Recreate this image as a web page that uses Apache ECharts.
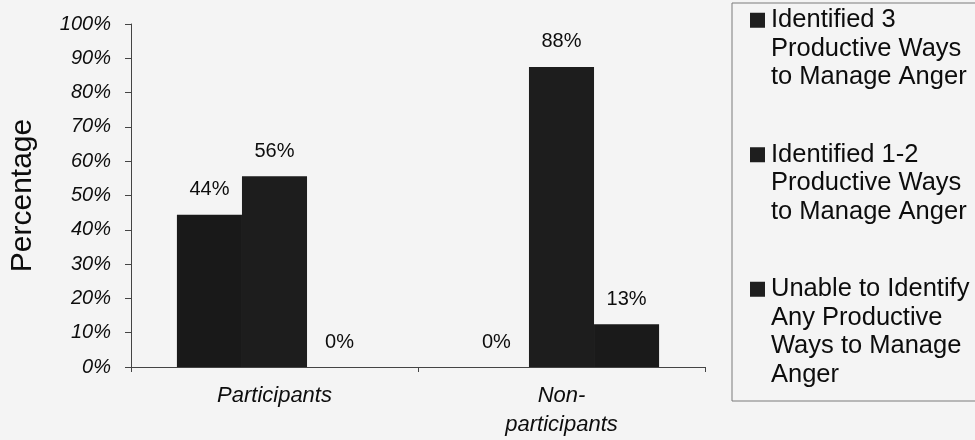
<!DOCTYPE html>
<html>
<head>
<meta charset="utf-8">
<script src="https://cdn.jsdelivr.net/npm/echarts/dist/echarts.min.js"></script>
<style>
  html, body { margin: 0; padding: 0; background: #f4f4f4; }
  #chart { width: 975px; height: 440px; }
</style>
</head>
<body>
<div id="chart"></div>
<script>
// ---- data ----
const categories = ['Participants', 'Non-\nparticipants'];
const seriesNames = [
  'Identified 3 Productive Ways to Manage Anger',
  'Identified 1-2 Productive Ways to Manage Anger',
  'Unable to Identify Any Productive Ways to Manage Anger'
];
const legendLines = [
  ['Identified 3', 'Productive Ways', 'to Manage Anger'],
  ['Identified 1-2', 'Productive Ways', 'to Manage Anger'],
  ['Unable to Identify', 'Any Productive', 'Ways to Manage', 'Anger']
];
const identified3 = [44.4, 0];
const identified12 = [55.6, 87.5];
const unable = [0, 12.5];
const yTicks = [0, 10, 20, 30, 40, 50, 60, 70, 80, 90, 100];

// ---- styling ----
const FONT = "'Liberation Sans', Arial, sans-serif";
const barColors = ['#191919', '#1d1d1d', '#1a1a1a'];
const seriesData = [identified3, identified12, unable];

const chart = echarts.init(document.getElementById('chart'), null, { renderer: 'canvas' });

const option = {
  animation: false,
  backgroundColor: '#f4f4f4',
  grid: { left: 130, right: 270, top: 24, bottom: 73, containLabel: false },
  legend: {
    orient: 'vertical',
    left: 732,
    top: 3,
    padding: [3, 40, 12, 13],
    itemGap: 49,
    itemWidth: 0,
    itemHeight: 0,
    selectedMode: false,
    borderColor: '#7a7a7a',
    borderWidth: 1,
    data: seriesNames,
    formatter: function (name) {
      const lines = legendLines[seriesNames.indexOf(name)];
      return lines.map(function (l, i) {
        return (i === 0 ? '{sq|}{g|}' : '{ind|}') + '{t|' + l + '}';
      }).join('\n');
    },
    textStyle: {
      fontFamily: FONT,
      fontSize: 25.5,
      lineHeight: 28.5,
      color: '#0d0d0d',
      rich: {
        sq: { width: 15, height: 15, backgroundColor: '#1e1e1e' },
        g: { width: 6 },
        ind: { width: 21 },
        t: { fontFamily: FONT, fontSize: 25.5, lineHeight: 28.5, color: '#0d0d0d' }
      }
    }
  },
  xAxis: {
    type: 'category',
    data: categories,
    axisLine: { show: true, lineStyle: { color: '#444', width: 1 } },
    axisTick: { show: true, length: 5, lineStyle: { color: '#444' } },
    axisLabel: {
      margin: 14,
      fontFamily: FONT,
      fontStyle: 'italic',
      fontSize: 22,
      lineHeight: 29,
      color: '#0d0d0d'
    },
    splitLine: { show: false }
  },
  yAxis: {
    type: 'value',
    min: yTicks[0],
    max: yTicks[yTicks.length - 1],
    interval: yTicks[1] - yTicks[0],
    name: 'Percentage',
    nameLocation: 'middle',
    nameGap: 93,
    nameTextStyle: { fontFamily: FONT, fontSize: 30, color: '#0d0d0d' },
    axisLine: { show: true, lineStyle: { color: '#444', width: 1 } },
    axisTick: { show: true, length: 6, lineStyle: { color: '#444' } },
    axisLabel: {
      margin: 20,
      formatter: '{value}%',
      fontFamily: FONT,
      fontStyle: 'italic',
      fontSize: 20,
      color: '#0d0d0d'
    },
    splitLine: { show: false }
  },
  series: seriesNames.map(function (n, i) {
    return {
      name: n,
      type: 'bar',
      data: seriesData[i],
      barGap: '0%',
      barCategoryGap: '32%',
      itemStyle: { color: barColors[i] },
      label: {
        show: true,
        position: 'top',
        distance: 15,
        fontFamily: FONT,
        fontSize: 20,
        color: '#0d0d0d',
        formatter: function (p) { return Math.round(p.value) + '%'; }
      }
    };
  })
};

chart.setOption(option);
</script>
</body>
</html>
